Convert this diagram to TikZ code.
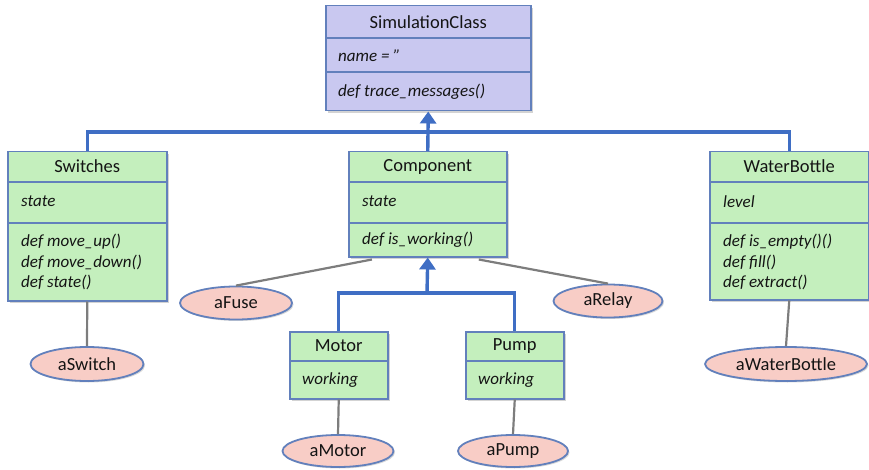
\documentclass[tikz,border=0pt]{standalone}
\usepackage{fontspec}
\setmainfont{Carlito}
\usetikzlibrary{shapes.geometric,shadows,calc,arrows.meta}
\definecolor{purp}{RGB}{201,200,240}
\definecolor{grn}{RGB}{196,239,189}
\definecolor{pnk}{RGB}{248,205,198}
\definecolor{bord}{RGB}{98,128,188}
\definecolor{conn}{RGB}{63,110,196}
\definecolor{gline}{RGB}{125,125,125}
\definecolor{txt}{RGB}{20,20,20}
\begin{document}
\begin{tikzpicture}[x=1pt,y=-1pt,
  cls/.style={draw=bord, line width=1.5pt, anchor=north west, inner sep=0pt,
    drop shadow={shadow xshift=1.8pt, shadow yshift=-1.8pt, opacity=0.35}},
  pcls/.style={cls, fill=purp},
  gcls/.style={cls, fill=grn},
  div/.style={draw=bord, line width=1.5pt},
  ttl/.style={font=\fontsize{18.5}{20}\selectfont, text=txt, inner sep=0pt},
  attr/.style={font=\fontsize{17}{20.5}\selectfont\itshape, text=txt, inner sep=0pt, anchor=west, align=left},
  obj/.style={ellipse, draw=bord, line width=1.8pt, fill=pnk, inner sep=0pt,
    font=\fontsize{18.5}{20}\selectfont, text=txt,
    drop shadow={shadow xshift=1.5pt, shadow yshift=-1.5pt, opacity=0.3}},
  gen/.style={draw=conn, line width=3.4pt},
  genarrow/.style={gen, -{Triangle[width=16pt,length=12pt]}},
  inst/.style={draw=gline, line width=2.2pt}
]
\useasboundingbox (0,0) rectangle (869,470);

% SimulationClass
\node[pcls, minimum width=205pt, minimum height=105pt] (sim) at (325,5) {};
\draw[div] ($(sim.north west)+(0,33)$) -- ($(sim.north east)+(0,33)$);
\draw[div] ($(sim.north west)+(0,67)$) -- ($(sim.north east)+(0,67)$);
\node[ttl] (simT) at ($(sim.north)+(0,17)$) {SimulationClass};
\node[attr] (simA) at ($(sim.north west)+(13,50.5)$) {name = ”};
\node[attr] (simM) at ($(sim.north west)+(13,87)$) {def trace\_messages()};

% Switches
\node[gcls, minimum width=159pt, minimum height=149pt] (sw) at (7,151) {};
\draw[div] ($(sw.north west)+(0,31)$) -- ($(sw.north east)+(0,31)$);
\draw[div] ($(sw.north west)+(0,72)$) -- ($(sw.north east)+(0,72)$);
\node[ttl] (swT) at ($(sw.north)+(0,15.5)$) {Switches};
\node[attr] (swA) at ($(sw.north west)+(14,50.5)$) {state};
\node[attr] (swM) at ($(sw.north west)+(14,111)$) {def move\_up()\\def move\_down()\\def state()};

% Component
\node[gcls, minimum width=158pt, minimum height=105pt] (comp) at (348,151) {};
\draw[div] ($(comp.north west)+(0,31)$) -- ($(comp.north east)+(0,31)$);
\draw[div] ($(comp.north west)+(0,72)$) -- ($(comp.north east)+(0,72)$);
\node[ttl] (compT) at ($(comp.north)+(0,15.5)$) {Component};
\node[attr] (compA) at ($(comp.north west)+(14,50.5)$) {state};
\node[attr] (compM) at ($(comp.north west)+(14,89)$) {def is\_working()};

% WaterBottle
\node[gcls, minimum width=159pt, minimum height=148pt] (wb) at (709,151) {};
\draw[div] ($(wb.north west)+(0,31)$) -- ($(wb.north east)+(0,31)$);
\draw[div] ($(wb.north west)+(0,72)$) -- ($(wb.north east)+(0,72)$);
\node[ttl] (wbT) at ($(wb.north)+(0,15.5)$) {WaterBottle};
\node[attr] (wbA) at ($(wb.north west)+(14,50.5)$) {level};
\node[attr] (wbM) at ($(wb.north west)+(14,111)$) {def is\_empty()()\\def fill()\\def extract()};

% Motor
\node[gcls, minimum width=98pt, minimum height=67pt] (mot) at (289,331) {};
\draw[div] ($(mot.north west)+(0,30)$) -- ($(mot.north east)+(0,30)$);
\node[ttl] (motT) at ($(mot.north)+(0,15)$) {Motor};
\node[attr] (motA) at ($(mot.north west)+(13,49)$) {working};

% Pump
\node[gcls, minimum width=98pt, minimum height=67pt] (pump) at (465,331) {};
\draw[div] ($(pump.north west)+(0,30)$) -- ($(pump.north east)+(0,30)$);
\node[ttl] (pumpT) at ($(pump.north)+(0,15)$) {Pump};
\node[attr] (pumpA) at ($(pump.north west)+(13,49)$) {working};

% Objects
\node[obj, minimum width=113pt, minimum height=34pt] (asw) at (87,364) {aSwitch};
\node[obj, minimum width=112pt, minimum height=33pt] (afuse) at (236,303) {aFuse};
\node[obj, minimum width=109pt, minimum height=33pt] (arelay) at (608,301) {aRelay};
\node[obj, minimum width=162pt, minimum height=34pt] (awb) at (786,364) {aWaterBottle};
\node[obj, minimum width=111pt, minimum height=32pt] (amot) at (338,451) {aMotor};
\node[obj, minimum width=110pt, minimum height=32pt] (apump) at (513,451) {aPump};

% Generalisation connectors
\coordinate (bar) at (427.5,132);
\draw[gen] (sw.north) |- (bar) -| (wb.north);
\draw[genarrow] (comp.north) -- (sim.south);
\coordinate (bar2) at (427,293);
\draw[gen] (mot.north) |- (bar2) -| (pump.north);
\draw[genarrow] (bar2) -- (comp.south);

% Instance connectors
\draw[inst] (sw.south) -- (asw.north);
\draw[inst] (wb.south) -- (awb.north);
\draw[inst] (mot.south) -- (amot.north);
\draw[inst] (pump.south) -- (apump.north);
\draw[inst] (afuse.north) -- ($(comp.south west)!0.15!(comp.south east)+(0,2)$);
\draw[inst] (arelay.north) -- ($(comp.south west)!0.82!(comp.south east)+(0,2)$);
\end{tikzpicture}
\end{document}
